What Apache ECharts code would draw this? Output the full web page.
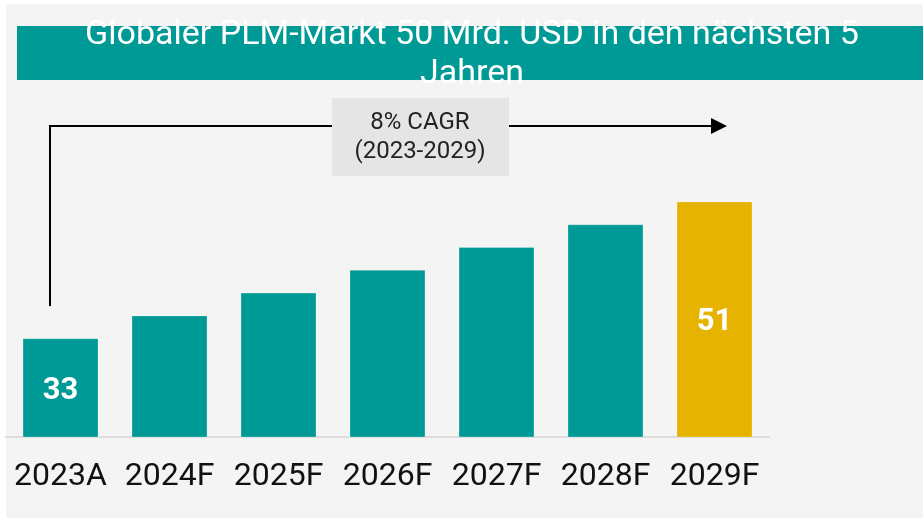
<!DOCTYPE html>
<html>
<head>
<meta charset="utf-8">
<script src="https://cdn.jsdelivr.net/npm/echarts@6.0.0/dist/echarts.min.js"></script>
<style>
  html, body { margin: 0; padding: 0; background: #ffffff; }
  #chart { width: 923px; height: 518px; }
</style>
</head>
<body>
<div id="chart"></div>
<script>
  // Daten
  var categories = ['2023A', '2024F', '2025F', '2026F', '2027F', '2028F', '2029F'];
  var marketValues = [33, 36, 39, 42, 45, 48, 51];
  var showValue = [true, false, false, false, false, false, true];
  var barColors = ['#009a96', '#009a96', '#009a96', '#009a96', '#009a96', '#009a96', '#e6b300'];
  var titleText = 'Globaler PLM-Markt 50 Mrd. USD in den nächsten 5\nJahren';
  var cagrText = '8% CAGR\n(2023-2029)';

  var chart = echarts.init(document.getElementById('chart'));

  var barData = marketValues.map(function (v, i) {
    return {
      value: v,
      itemStyle: { color: barColors[i] },
      label: { show: showValue[i] }
    };
  });

  chart.setOption({
    backgroundColor: '#f4f4f4',
    animation: false,
    grid: { left: 6, right: 154, top: 133, bottom: 81 },
    xAxis: {
      type: 'category',
      data: categories,
      axisLine: { lineStyle: { color: '#dcdcdc', width: 2 } },
      axisTick: { show: false },
      axisLabel: {
        interval: 0,
        fontFamily: 'Roboto',
        fontSize: 32,
        color: '#111111',
        margin: 24
      }
    },
    yAxis: {
      type: 'value',
      min: 20,
      max: 60,
      show: false
    },
    series: [{
      type: 'bar',
      data: barData,
      barWidth: 76,
      itemStyle: { borderColor: 'rgba(255,255,255,0.25)', borderWidth: 1 },
      label: {
        position: 'inside',
        offset: [0, 3],
        color: '#ffffff',
        fontFamily: 'Roboto',
        fontWeight: 'bold',
        fontSize: 31
      }
    }],
    graphic: [
      // weisser Rand
      { type: 'rect', shape: { x: 0, y: 0, width: 923, height: 4 }, style: { fill: '#ffffff' }, silent: true },
      { type: 'rect', shape: { x: 0, y: 0, width: 6, height: 518 }, style: { fill: '#ffffff' }, silent: true },
      // Titelbalken
      { type: 'rect', shape: { x: 17, y: 26, width: 906, height: 54 }, style: { fill: '#009a96' }, silent: true },
      {
        type: 'text', x: 472, y: 55, silent: true,
        style: {
          text: titleText,
          fill: '#ffffff',
          font: '34px Roboto',
          align: 'center',
          verticalAlign: 'middle',
          lineHeight: 39
        }
      },
      // CAGR Pfeil
      {
        type: 'polyline', silent: true,
        shape: { points: [[50, 306], [50, 126], [712, 126]] },
        style: { stroke: '#000000', lineWidth: 2, fill: null }
      },
      {
        type: 'polygon', silent: true,
        shape: { points: [[711, 118], [727, 126], [711, 134]] },
        style: { fill: '#000000' }
      },
      { type: 'rect', shape: { x: 332, y: 98, width: 177, height: 78 }, style: { fill: '#e5e5e5' }, silent: true },
      {
        type: 'text', x: 420, y: 137, silent: true,
        style: {
          text: cagrText,
          fill: '#222222',
          font: '24px Roboto',
          align: 'center',
          verticalAlign: 'middle',
          lineHeight: 29
        }
      }
    ]
  });
</script>
</body>
</html>
